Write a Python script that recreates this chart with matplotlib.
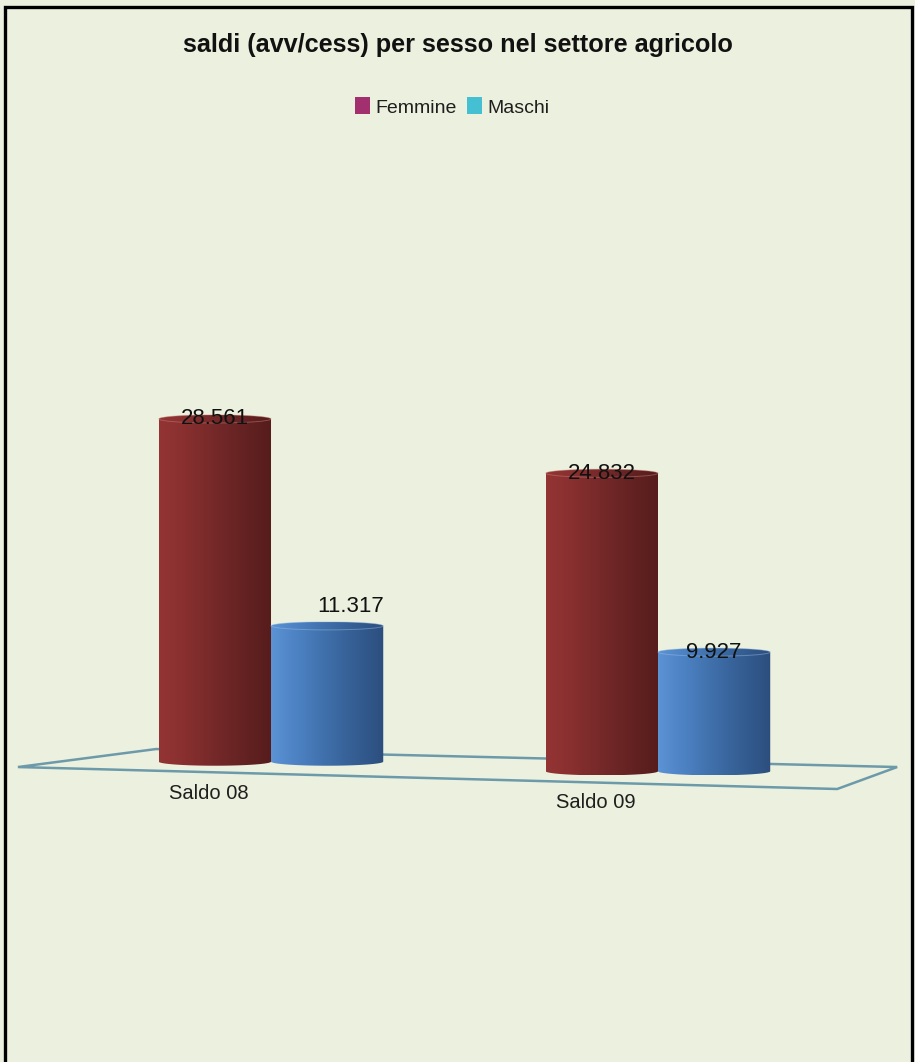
import numpy as np
import matplotlib
matplotlib.use("Agg")
import matplotlib.pyplot as plt
from matplotlib.patches import Patch, Ellipse, PathPatch, Polygon, Rectangle
from matplotlib.path import Path
from matplotlib.colors import LinearSegmentedColormap

# ---- data ----
categories = ["Saldo 08", "Saldo 09"]
series_names = ["Femmine", "Maschi"]
femmine = [28.561, 24.832]
maschi = [11.317, 9.927]

# ---- style ----
BG = "#EBF1DE"
FONTS = ["Liberation Sans Narrow", "Liberation Sans", "DejaVu Sans"]
legend_colors = ["#A3306E", "#45C0D2"]
body_colors = [
    ["#943434", "#8A3030", "#6E2626", "#561C1C"],
    ["#5C93D4", "#4E84C6", "#3A679F", "#2C4E7E"],
]
rim_colors = ["#C98A80", "#9CC0E6"]

plt.rcParams["font.family"] = FONTS

fig = plt.figure(figsize=(9.15, 10.62), dpi=100, facecolor=BG)
ax = fig.add_axes([0, 0, 1, 1])
ax.set_facecolor(BG)
ax.axis("off")

x = np.arange(len(categories))
bar_w = 0.29
tilt = -0.80           # floor slope (value units per category unit)
cap_h = 0.34           # half height of the elliptical caps
bottoms = tilt * x

# floor plane drawn in perspective behind the bars
floor = Polygon([(-0.654, -0.45), (-0.297, 1.05), (1.618, -0.45), (1.463, -2.28)],
                closed=True, fill=False, edgecolor="#6D9AAA", lw=1.8, zorder=1,
                joinstyle="miter")
ax.add_patch(floor)


def cylinder(rect, colors, rim, z):
    x0, y0 = rect.get_x(), rect.get_y()
    w, h = rect.get_width(), rect.get_height()
    y1 = y0 + h
    xc = x0 + w / 2
    t_top = np.linspace(np.pi, 0, 60)
    t_bot = np.linspace(0, -np.pi, 60)
    top = np.column_stack([xc + w / 2 * np.cos(t_top), y1 + cap_h * np.sin(t_top)])
    bot = np.column_stack([xc + w / 2 * np.cos(t_bot), y0 + cap_h * np.sin(t_bot)])
    verts = np.vstack([top, bot, top[:1]])
    codes = [Path.MOVETO] + [Path.LINETO] * (len(verts) - 2) + [Path.CLOSEPOLY]
    body = PathPatch(Path(verts, codes), facecolor="none", edgecolor="none",
                     transform=ax.transData)
    ax.add_patch(body)
    cmap = LinearSegmentedColormap.from_list(
        "cyl", list(zip([0.0, 0.2, 0.6, 1.0], colors)))
    grad = np.linspace(0, 1, 256).reshape(1, -1)
    im = ax.imshow(grad, cmap=cmap, extent=(x0, x0 + w, y0 - cap_h, y1 + cap_h),
                   aspect="auto", origin="lower", interpolation="bilinear", zorder=z)
    im.set_clip_path(body)
    ax.add_patch(Ellipse((xc, y1), w, 2 * cap_h, facecolor="none",
                         edgecolor=rim, lw=0.7, alpha=0.45, zorder=z + 0.1))
    return xc, y1


bars_f = ax.bar(x - bar_w / 2, femmine, bar_w, bottom=bottoms, color="none",
                edgecolor="none")
bars_m = ax.bar(x + bar_w / 2, maschi, bar_w, bottom=bottoms, color="none",
                edgecolor="none")

label_nudge = {("m", 0): (0.06, 1.6)}

for i, (rect, v) in enumerate(zip(bars_f, femmine)):
    xc, yt = cylinder(rect, body_colors[0], rim_colors[0], 3)
    dx, dy = label_nudge.get(("f", i), (0, 0))
    ax.text(xc + dx, yt + dy, f"{v:.3f}", ha="center", va="center",
            fontsize=16, color="#111111", zorder=10)
for i, (rect, v) in enumerate(zip(bars_m, maschi)):
    xc, yt = cylinder(rect, body_colors[1], rim_colors[1], 5)
    dx, dy = label_nudge.get(("m", i), (0, 0))
    ax.text(xc + dx, yt + dy, f"{v:.3f}", ha="center", va="center",
            fontsize=16, color="#111111", zorder=10)

# category labels along the front of the floor
for xi, b, lab in zip(x, bottoms, categories):
    ax.text(xi - 0.16, b + tilt * (-0.16) - 2.75, lab, ha="center", va="center",
            fontsize=14.5, color="#1E1E1E")

ax.set_xlim(-0.7003, 1.6641)
ax.set_ylim(-25.03, 63.47)

fig.text(0.5006, 1 - 45 / 1062, "saldi (avv/cess) per sesso nel settore agricolo",
         ha="center", va="center", fontsize=18.2, fontweight="bold", color="#111111")

handles = [Patch(facecolor=c, edgecolor="none", label=n)
           for c, n in zip(legend_colors, series_names)]
fig.legend(handles=handles, loc="center", bbox_to_anchor=(0.4945, 1 - 107 / 1062),
           ncol=2, frameon=False, fontsize=14, handlelength=0.75, handleheight=0.95,
           handletextpad=0.3, columnspacing=0.5, labelcolor="#1E1E1E")

fig.patches.append(Rectangle((4.5 / 915, -0.02), (911.5 - 4.5) / 915, 1.02 - 6.5 / 1062,
                             transform=fig.transFigure, fill=False, edgecolor="black",
                             lw=2.4, zorder=20))

fig.savefig("out.png", dpi=100, facecolor=BG)
